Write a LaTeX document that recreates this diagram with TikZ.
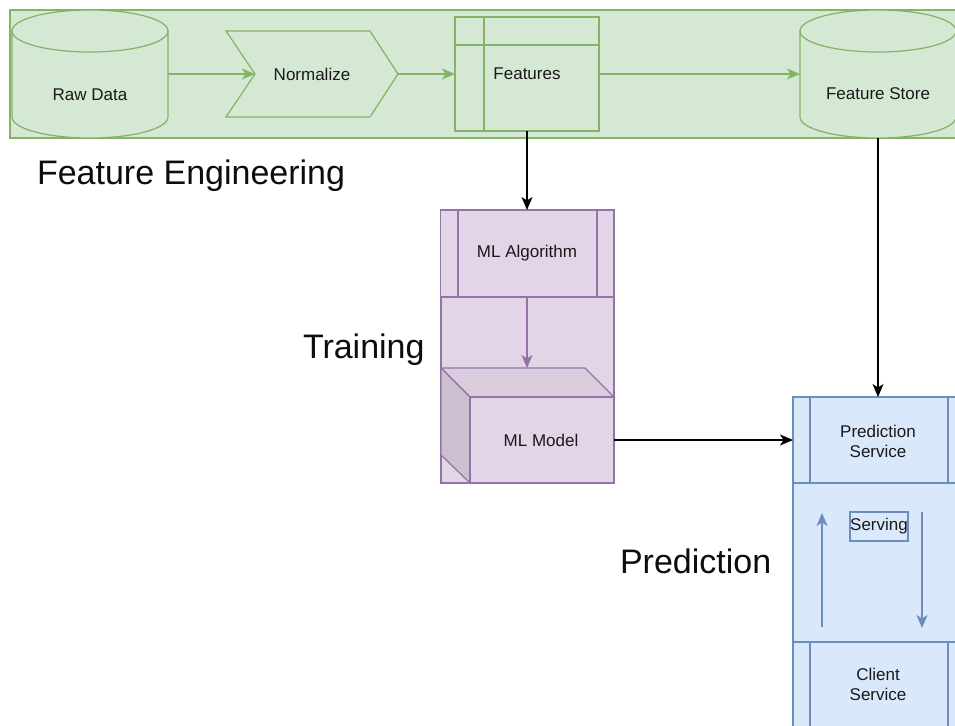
\documentclass[tikz,border=0pt]{standalone}
\usepackage{fontspec}
\setmainfont{Liberation Sans}
\usetikzlibrary{arrows.meta,calc}

\definecolor{gfill}{HTML}{D5E8D4}
\definecolor{gline}{HTML}{82B366}
\definecolor{pfill}{HTML}{E1D5E7}
\definecolor{pline}{HTML}{9673A6}
\definecolor{pside}{HTML}{CBC0D0}
\definecolor{ptop}{HTML}{D8CCDD}
\definecolor{bfill}{HTML}{DAE8FC}
\definecolor{bline}{HTML}{6C8EBF}

\begin{document}
\begin{tikzpicture}[
  x=1pt, y=-1pt,
  >={Stealth[length=13pt, width=11pt, inset=3.5pt]},
  every node/.style={outer sep=0pt},
  lbl/.style ={font=\fontsize{17}{20}\selectfont, text=black!90, align=center, inner sep=0pt},
  big/.style ={font=\fontsize{34}{40}\selectfont, text=black!95, inner sep=0pt, anchor=base west},
  area/.style={draw, line width=1.2pt, inner sep=0pt, anchor=north west},
  box/.style ={draw, line width=1.2pt, inner sep=0pt},
  hold/.style={inner sep=0pt},
  grn/.style ={draw=gline, fill=gfill},
  prp/.style ={draw=pline, fill=pfill},
  blu/.style ={draw=bline, fill=bfill},
  flow/.style={->, line width=1.2pt},
  link/.style={->, line width=1.2pt, black},
]
\useasboundingbox (0,0) rectangle (955,725);

% ======================= Feature Engineering =======================
\node[area, grn, minimum width=946, minimum height=128] (fe) at (10,10) {};

% raw data cylinder
\node[hold, minimum width=156, minimum height=128] (raw) at (90,74) {};
\draw[grn, line width=1.2pt] (12,31) -- (12,117) arc[start angle=180, end angle=0, x radius=78, y radius=21]
  -- (168,31) arc[start angle=0, end angle=-180, x radius=78, y radius=21] -- cycle;
\draw[gline, line width=1.2pt] (12,31) arc[start angle=180, end angle=0, x radius=78, y radius=21];
\node[lbl] (rawtxt) at (90,95) {Raw Data};

% normalize step
\draw[grn, line width=1.2pt] (226,31) -- (370,31) -- (398,74) -- (370,117) -- (226,117) -- (255,74) -- cycle;
\node[lbl] (norm) at (312,74) {Normalize};
\coordinate (normin) at (255,74);
\coordinate (normout) at (398,74);

% features (internal storage)
\node[box, grn, minimum width=144, minimum height=114] (feat) at (527,74) {};
\draw[gline, line width=1.2pt] ([yshift=-28pt]feat.north west) -- ([yshift=-28pt]feat.north east);
\draw[gline, line width=1.2pt] ([xshift=29pt]feat.north west) -- ([xshift=29pt]feat.south west);
\node[lbl] (feattxt) at (527,74) {Features};

% feature store cylinder
\node[hold, minimum width=156, minimum height=128] (store) at (878,74) {};
\draw[grn, line width=1.2pt] (800,31) -- (800,117) arc[start angle=180, end angle=0, x radius=78, y radius=21]
  -- (956,31) arc[start angle=0, end angle=-180, x radius=78, y radius=21] -- cycle;
\draw[gline, line width=1.2pt] (800,31) arc[start angle=180, end angle=0, x radius=78, y radius=21];
\node[lbl] (storetxt) at (878,94) {Feature Store};

\draw[flow, gline] (raw.east) -- (normin);
\draw[flow, gline] (normout) -- (feat.west);
\draw[flow, gline] (feat.east) -- (store.west);

\node[big] (fetitle) at (37,184) {Feature Engineering};

% ======================= Training =======================
\node[area, prp, minimum width=173, minimum height=273] (tr) at (441,210) {};
\node[box, prp, minimum width=173, minimum height=87] (alg) at (527,253.5) {};
\draw[pline, line width=1.2pt] (458,210) -- (458,297);
\draw[pline, line width=1.2pt] (597,210) -- (597,297);
\node[lbl] (algtxt) at (527,253) {ML Algorithm};

% ml model cube
\draw[pline, fill=ptop, line width=1.2pt] (441,368) -- (585,368) -- (614,397) -- (470,397) -- cycle;
\draw[pline, fill=pside, line width=1.2pt] (441,368) -- (470,397) -- (470,483) -- (441,455) -- cycle;
\node[box, prp, minimum width=144, minimum height=86] (model) at (542,440) {};
\node[lbl] (modeltxt) at (541,440) {ML Model};
\coordinate (cubetop) at (527,368);

\draw[flow, pline] (alg.south) -- (cubetop);

\node[big] (trtitle) at (303,358) {Training};

% ======================= Prediction =======================
\node[area, blu, minimum width=170, minimum height=335] (pr) at (793,397) {};
\node[box, blu, minimum width=170, minimum height=86] (pred) at (878,440) {};
\draw[bline, line width=1.2pt] (810,397) -- (810,483);
\draw[bline, line width=1.2pt] (948,397) -- (948,483);
\node[lbl] (predtxt) at (878,441) {Prediction\\Service};

\node[box, blu, minimum width=170, minimum height=93] (client) at (878,688.5) {};
\draw[bline, line width=1.2pt] (810,642) -- (810,735);
\draw[bline, line width=1.2pt] (948,642) -- (948,735);
\node[lbl] (clienttxt) at (878,684) {Client\\Service};

\node[draw=bline, line width=1.2pt, minimum width=58, minimum height=29, inner sep=0pt] (serve) at (879,526.5) {};
\node[lbl] (servetxt) at (879,526) {Serving};

\coordinate (upfrom) at (822,627);
\coordinate (upto)   at (822,513);
\coordinate (dnfrom) at (922,512);
\coordinate (dnto)   at (922,628);
\draw[flow, bline] (upfrom) -- (upto);
\draw[flow, bline] (dnfrom) -- (dnto);

\node[big] (prtitle) at (620,573) {Prediction};

% ======================= cross links =======================
\draw[link] (feat.south) -- (alg.north);
\draw[link] (store.south) -- (pred.north);
\draw[link] (model.east) -- (pred.west);
\end{tikzpicture}
\end{document}
